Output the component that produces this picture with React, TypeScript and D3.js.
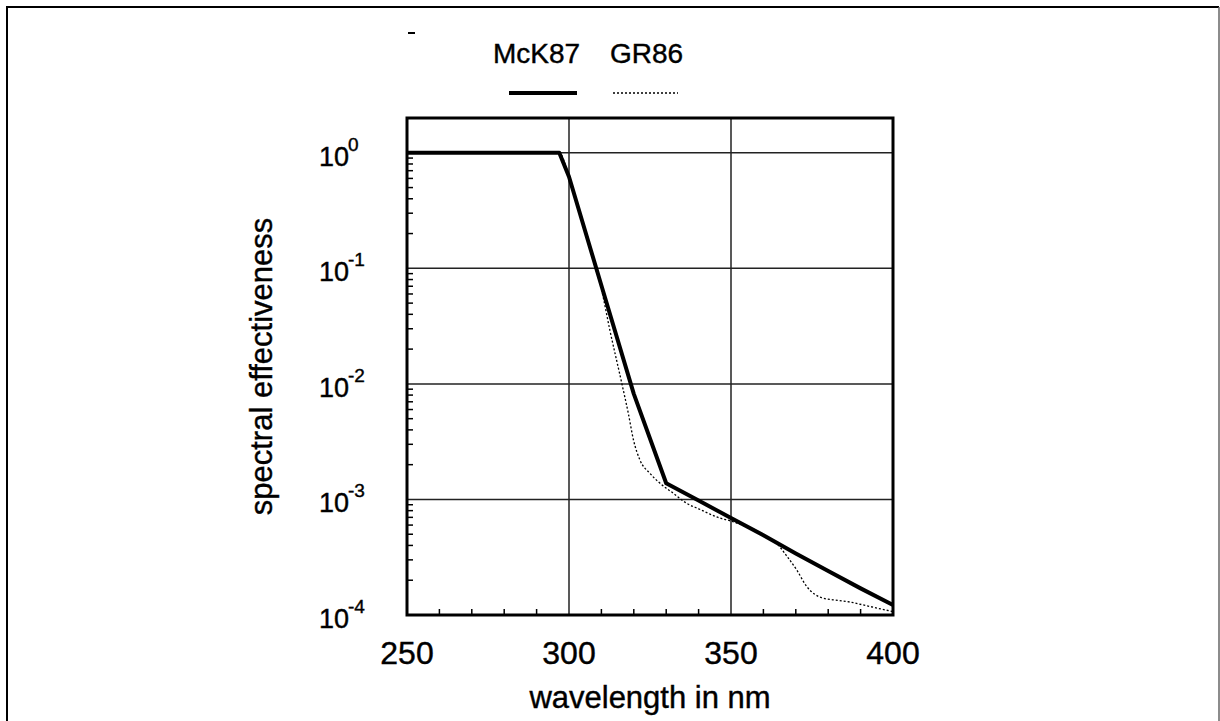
import React from "react";
import * as d3 from "d3";

// McKinlay-Diffey 1987 (thick solid)
const wlMcK = [250, 297, 300, 310, 320, 330, 340, 350, 360, 370, 380, 390, 400];
const effMcK = [1, 1, 0.62, 0.071, 0.0082, 0.00138, 0.00098, 0.00069, 0.00049, 0.00034, 0.00024, 0.00017, 0.000122];

// GR86 (dotted)
const wlGR = [250, 297, 300, 305, 308, 310, 312.6, 316.3, 318.3, 319.9, 321.9, 325, 328.1, 332.2, 336.3, 340, 346.6, 350, 355, 360, 364, 367, 370.3, 373.4, 378, 382, 387, 392, 398, 400];
const effGR = [1, 1, 0.62, 0.21, 0.105, 0.066, 0.0293, 0.0101, 0.00557, 0.00327, 0.00219, 0.00168, 0.00138, 0.00113, 0.000927, 0.00083, 0.00069, 0.00065, 0.000575, 0.00049, 0.00042, 0.00033, 0.000245, 0.000176, 0.000141, 0.000135, 0.000129, 0.00012, 0.00011, 0.000107];

const xTicks = [250, 300, 350, 400];
const xMinor = [260, 270, 280, 290, 310, 320, 330, 340, 360, 370, 380, 390];
const xGrid = [300, 350];
const yExps = [0, -1, -2, -3, -4];
const yGridExps = [0, -1, -2, -3];
const seriesNames = ["McK87", "GR86"];
const xLabel = "wavelength in nm";
const yLabel = "spectral effectiveness";

const FONT = "'Liberation Sans', Arial, Helvetica, sans-serif";
const TS = { stroke: "#000", strokeWidth: 0.4 } as const;

export default function App() {
  const L = 407, R = 893, T = 118, B = 615;
  const x = d3.scaleLinear().domain([250, 400]).range([L, R]);
  const y = d3.scaleLog().domain([1e-4, 2]).range([B, T]);

  const mck = wlMcK.map((w, i) => [w, effMcK[i]] as [number, number]);
  const gr = wlGR.map((w, i) => [w, effGR[i]] as [number, number]);
  const lineLin = d3.line<[number, number]>().x(d => x(d[0])).y(d => y(d[1]));
  const lineSmooth = d3.line<[number, number]>().x(d => x(d[0])).y(d => y(d[1])).curve(d3.curveMonotoneX);

  const yMinor: number[] = [];
  for (let e = -4; e <= -1; e++) for (let m = 2; m <= 9; m++) yMinor.push(m * Math.pow(10, e));

  return (
    <svg width={1220} height={721} style={{ position: "fixed", left: 0, top: 0, background: "#fff" }} fontFamily={FONT}>
      <rect x={0} y={0} width={1220} height={721} fill="#fff" />
      {/* outer frame */}
      <path d="M7,721 V7 H1219" fill="none" stroke="#000" strokeWidth={2} />
      <line x1={1219} y1={7} x2={1219} y2={721} stroke="#666" strokeWidth={1.5} />
      <rect x={408} y={32} width={7} height={2} fill="#000" />

      {/* legend */}
      <text x={536.5} y={63} fontSize={28} textAnchor="middle" fill="#000" {...TS}>{seriesNames[0]}</text>
      <text x={646.5} y={63} fontSize={28} textAnchor="middle" fill="#000" {...TS}>{seriesNames[1]}</text>
      <line x1={509} y1={93} x2={577} y2={93} stroke="#000" strokeWidth={4} />
      <line x1={613} y1={93} x2={678} y2={93} stroke="#000" strokeWidth={1.3} strokeDasharray="2 2" />

      {/* grid */}
      {xGrid.map(v => (
        <line key={"gx" + v} x1={x(v)} x2={x(v)} y1={T} y2={B} stroke="#222" strokeWidth={1.5} />
      ))}
      {yGridExps.map(e => (
        <line key={"gy" + e} x1={L} x2={R} y1={y(Math.pow(10, e))} y2={y(Math.pow(10, e))} stroke="#222" strokeWidth={1.5} />
      ))}

      {/* minor ticks */}
      {xMinor.map(v => (
        <line key={"mx" + v} x1={x(v)} x2={x(v)} y1={B} y2={B - 6} stroke="#000" strokeWidth={1.5} />
      ))}
      {yMinor.map(v => (
        <line key={"my" + v} x1={L} x2={L + 6} y1={y(v)} y2={y(v)} stroke="#000" strokeWidth={1.5} />
      ))}

      {/* curves */}
      <path d={lineSmooth(gr) || ""} fill="none" stroke="#000" strokeWidth={1.3} strokeDasharray="2 2" />
      <path d={lineLin(mck) || ""} fill="none" stroke="#000" strokeWidth={4} strokeLinejoin="round" />

      {/* plot frame */}
      <rect x={L} y={T} width={R - L} height={B - T} fill="none" stroke="#000" strokeWidth={3} />

      {/* x tick labels */}
      {xTicks.map(v => (
        <text key={"tx" + v} x={x(v)} y={664} fontSize={32} textAnchor="middle" fill="#000" {...TS}>{v}</text>
      ))}
      {/* y tick labels */}
      {yExps.map(e => {
        const gy = y(Math.pow(10, e));
        return (
          <g key={"ty" + e}>
            <text x={349} y={gy + 13} fontSize={27} textAnchor="end" fill="#000" {...TS}>10</text>
            <text x={348} y={gy - 2} fontSize={19} textAnchor="start" fill="#000" {...TS}>{e === 0 ? "0" : "-" + Math.abs(e)}</text>
          </g>
        );
      })}

      {/* axis labels */}
      <text x={(L + R) / 2} y={708} fontSize={31} textAnchor="middle" fill="#000" {...TS}>{xLabel}</text>
      <text transform={`translate(272,${(T + B) / 2}) rotate(-90)`} fontSize={31} textAnchor="middle" fill="#000" {...TS}>{yLabel}</text>
    </svg>
  );
}
